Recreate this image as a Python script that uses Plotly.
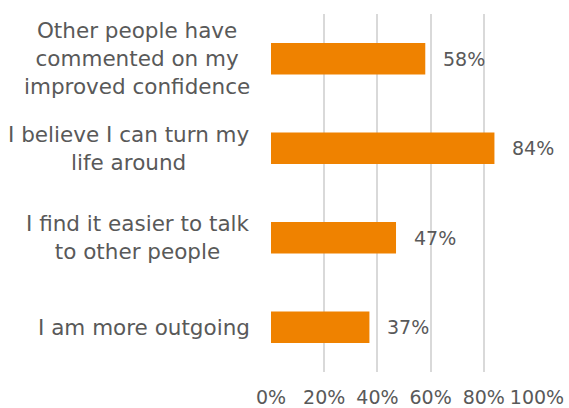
import plotly.graph_objects as go

# Survey statements (top to bottom) and share of respondents agreeing
statements = [
    "Other people have<br>commented on my<br>improved confidence",
    "I believe I can turn my<br>life around",
    "I find it easier to talk<br>to other people",
    "I am more outgoing",
]
shares = [0.58, 0.84, 0.47, 0.37]
x_ticks = [0, 0.2, 0.4, 0.6, 0.8, 1.0]
x_tick_labels = ["0%", "20%", "40%", "60%", "80%", "100%"]

ORANGE = "#EF8200"
TEXT = "#595959"
GRID = "#D9D9D9"
FONT = "DejaVu Sans"

fig = go.Figure(
    go.Bar(
        x=shares,
        y=statements,
        orientation="h",
        marker=dict(color=ORANGE, line=dict(width=0)),
        width=0.35,
        hoverinfo="skip",
    )
)

# Value labels to the right of each bar
for s, v in zip(statements, shares):
    fig.add_annotation(
        x=v, y=s, xref="x", yref="y",
        text=f"{round(v * 100)}%",
        showarrow=False, xanchor="left", xshift=16,
        font=dict(family=FONT, size=19, color=TEXT),
    )

# Category labels: right edge against the plot, lines centred within each block
for s in statements:
    fig.add_annotation(
        x=0, y=s, xref="paper", yref="y",
        text=s, showarrow=False,
        xanchor="right", xshift=-19, align="center",
        font=dict(family=FONT, size=21.5, color=TEXT),
    )

fig.update_layout(
    width=569, height=408,
    margin=dict(l=271, r=32, t=14, b=36, autoexpand=False),
    paper_bgcolor="white", plot_bgcolor="white",
    showlegend=False,
    xaxis=dict(
        range=[0, 1], tickvals=x_ticks, ticktext=x_tick_labels,
        showgrid=True, gridcolor=GRID, gridwidth=1.5,
        zeroline=False, showline=False, automargin=False,
        tickfont=dict(family=FONT, size=19, color=TEXT),
        ticklabelstandoff=12,
    ),
    yaxis=dict(
        categoryorder="array", categoryarray=statements,
        autorange="reversed", showticklabels=False, automargin=False,
        showgrid=False, zeroline=False, showline=False,
    ),
)

fig.write_html("out.html")
